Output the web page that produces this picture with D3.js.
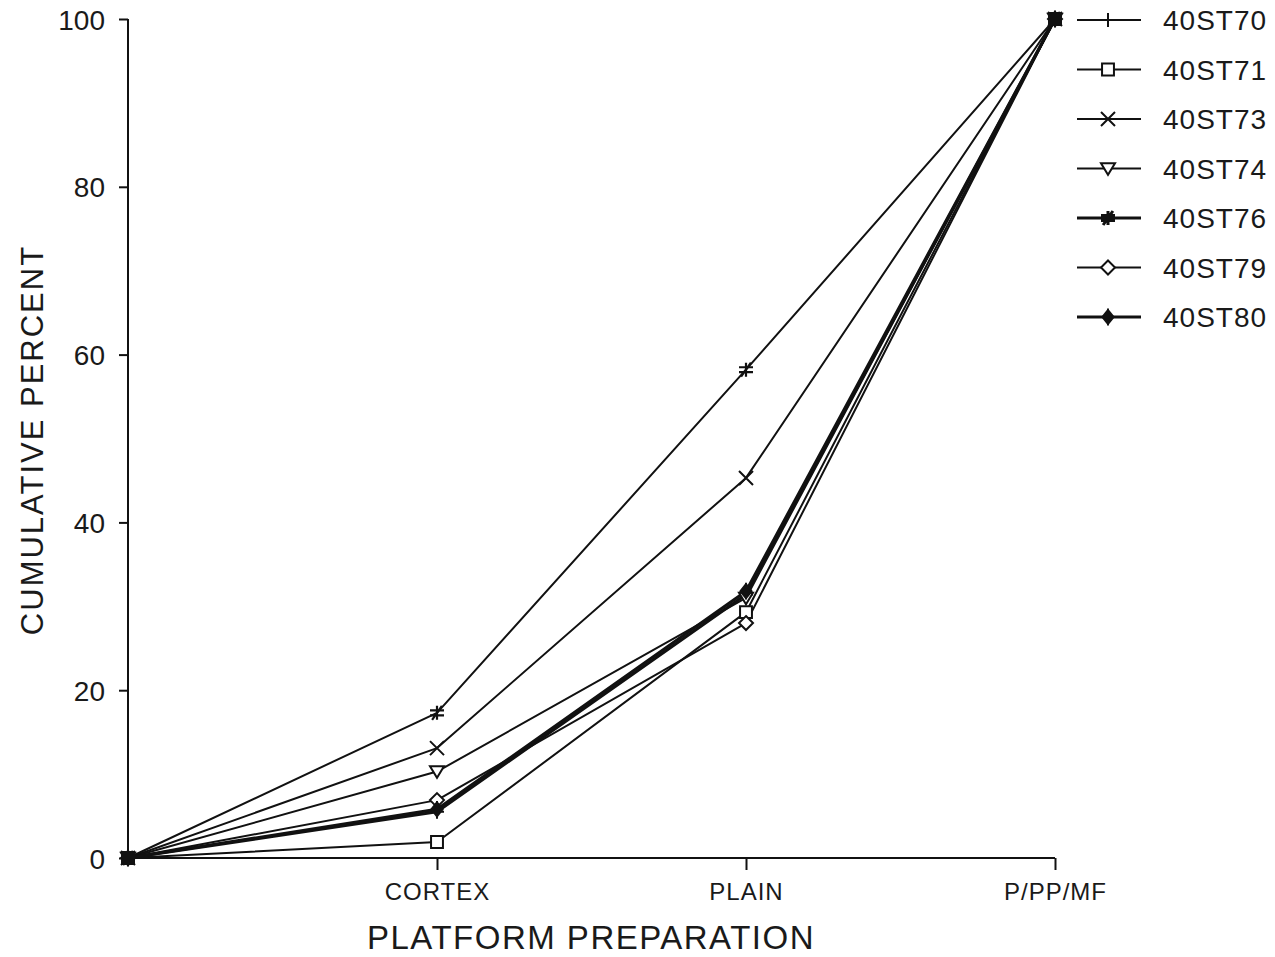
<!DOCTYPE html>
<html>
<head>
<meta charset="utf-8">
<script src="https://cdn.jsdelivr.net/npm/d3@7"></script>
<style>
html,body{margin:0;padding:0;background:#fff;}
svg{display:block;}
text{font-family:"Liberation Sans","DejaVu Sans",sans-serif;fill:#1a1a1a;}
</style>
</head>
<body>
<svg id="chart" width="1275" height="957"></svg>
<script>
// ---- data ----
const categories = ["", "CORTEX", "PLAIN", "P/PP/MF"];
const yTicks = [0, 20, 40, 60, 80, 100];
const seriesNames = ["40ST70", "40ST71", "40ST73", "40ST74", "40ST76", "40ST79", "40ST80"];
const v40ST70 = [0, 5.5, 31.4, 100];
const v40ST71 = [0, 1.9, 29.3, 100];
const v40ST73 = [0, 13.1, 45.3, 100];
const v40ST74 = [0, 10.3, 31.0, 100];
const v40ST76 = [0, 17.3, 58.2, 100];
const v40ST79 = [0, 6.9, 28.0, 100];
const v40ST80 = [0, 5.8, 31.8, 100];
const seriesValues = [v40ST70, v40ST71, v40ST73, v40ST74, v40ST76, v40ST79, v40ST80];
const markerTypes = ["plus", "square", "cross", "triangle", "asterisk", "diamond", "diamondbar"];
const xTitle = "PLATFORM PREPARATION";
const yTitle = "CUMULATIVE PERCENT";

// ---- layout ----
const svg = d3.select("#chart");
const mLeft = 128, mRight = 1055, mTop = 19, mBottom = 858;
const x = d3.scalePoint().domain(categories).range([mLeft, mRight]);
const y = d3.scaleLinear().domain([0, 100]).range([mBottom, mTop]);

function markerPath(type, r) {
  const p = d3.path();
  switch (type) {
    case "plus":
      p.moveTo(0, -r); p.lineTo(0, r); p.moveTo(-r, 0); p.lineTo(r, 0); break;
    case "square":
      p.rect(-r * 0.85, -r * 0.85, r * 1.7, r * 1.7); break;
    case "cross":
      p.moveTo(-r, -r); p.lineTo(r, r); p.moveTo(-r, r); p.lineTo(r, -r); break;
    case "triangle":
      p.moveTo(-r, -r * 0.75); p.lineTo(r, -r * 0.75); p.lineTo(0, r * 0.9); p.closePath(); break;
    case "asterisk":
      p.moveTo(-r, -r * 0.35); p.lineTo(r, -r * 0.35);
      p.moveTo(-r, r * 0.35); p.lineTo(r, r * 0.35);
      p.moveTo(-r * 0.7, r); p.lineTo(r * 0.7, -r);
      p.moveTo(0, -r); p.lineTo(0, r); break;
    case "diamond":
      p.moveTo(0, -r); p.lineTo(r, 0); p.lineTo(0, r); p.lineTo(-r, 0); p.closePath(); break;
    case "diamondbar":
      p.moveTo(0, -r); p.lineTo(r * 0.8, 0); p.lineTo(0, r); p.lineTo(-r * 0.8, 0); p.closePath();
      p.moveTo(0, -r * 1.2); p.lineTo(0, r * 1.2); break;
  }
  return p.toString();
}

// ---- axes ----
const yAxis = d3.axisLeft(y).tickValues(yTicks).tickSize(9).tickPadding(14).tickFormat(d3.format("d"));
const gy = svg.append("g").attr("transform", `translate(${mLeft},0)`).call(yAxis);
gy.select(".domain").attr("stroke", "#111").attr("stroke-width", 2).attr("d", `M0,${mBottom}V${mTop}`);
gy.selectAll(".tick line").attr("stroke", "#111").attr("stroke-width", 2);
gy.selectAll(".tick text").style("font-size", "28px").attr("fill", "#1a1a1a").attr("dy", "0.36em");

const xAxis = d3.axisBottom(x).tickSize(12).tickPadding(10);
const gx = svg.append("g").attr("transform", `translate(0,${mBottom})`).call(xAxis);
gx.select(".domain").attr("stroke", "#111").attr("stroke-width", 2).attr("d", `M${mLeft},0H${mRight}`);
gx.selectAll(".tick line").attr("stroke", "#111").attr("stroke-width", 2)
  .filter(d => d === "").remove();
gx.selectAll(".tick text").style("font-size", "24px").style("letter-spacing", "1px")
  .attr("fill", "#1a1a1a").attr("dy", "0.85em");

svg.append("text").attr("x", 591).attr("y", 949).attr("text-anchor", "middle")
  .style("font-size", "33px").style("letter-spacing", "1.5px").text(xTitle);
svg.append("text").attr("transform", "translate(43,440) rotate(-90)").attr("text-anchor", "middle")
  .style("font-size", "31px").style("letter-spacing", "2px").text(yTitle);

// ---- lines & markers ----
const line = d3.line().x((d, i) => x(categories[i])).y(d => y(d));
const heavy = [true, false, false, false, false, false, true];
seriesValues.forEach((vals, si) => {
  svg.append("path").datum(vals).attr("d", line).attr("fill", "none")
    .attr("stroke", "#111").attr("stroke-width", heavy[si] ? 3 : 2)
    .attr("stroke-linejoin", "round");
});
seriesValues.forEach((vals, si) => {
  const t = markerTypes[si];
  svg.append("g").selectAll("path").data(vals).join("path")
    .attr("transform", (d, i) => `translate(${x(categories[i])},${y(d)})`)
    .attr("d", markerPath(t, 7))
    .attr("fill", t === "diamondbar" ? "#111" : "#fff")
    .attr("stroke", "#111").attr("stroke-width", t === "asterisk" ? 2.2 : 2);
});
// endpoint blobs (origin and 100%) drawn as filled squares
svg.append("g").selectAll("rect").data([[categories[0], 0], [categories[3], 100]]).join("rect")
  .attr("x", d => x(d[0]) - 7).attr("y", d => y(d[1]) - 7).attr("width", 14).attr("height", 14)
  .attr("fill", "#111");

// ---- legend ----
const legY0 = 20, legStep = 49.5;
const leg = svg.append("g");
seriesNames.forEach((name, i) => {
  const yy = legY0 + i * legStep;
  leg.append("line").attr("x1", 1077).attr("x2", 1141).attr("y1", yy).attr("y2", yy)
    .attr("stroke", "#111").attr("stroke-width", i === 4 || i === 6 ? 3 : 2);
  leg.append("path").attr("transform", `translate(1108,${yy})`).attr("d", markerPath(markerTypes[i], 7))
    .attr("fill", markerTypes[i] === "diamondbar" ? "#111" : "#fff")
    .attr("stroke", "#111").attr("stroke-width", markerTypes[i] === "asterisk" ? 3 : 2);
  leg.append("text").attr("x", 1163).attr("y", yy).attr("dy", "0.36em")
    .style("font-size", "28px").style("letter-spacing", "1px").text(name);
});
</script>
</body>
</html>
